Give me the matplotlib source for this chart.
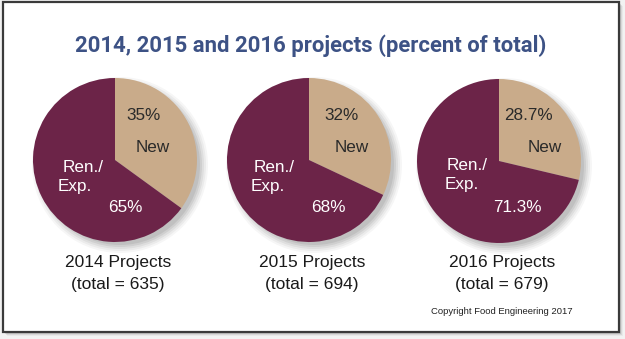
import matplotlib
matplotlib.use("Agg")
import matplotlib.pyplot as plt
from matplotlib.patches import Rectangle, Circle

years = ["2014", "2015", "2016"]
new_pct = [35, 32, 28.7]
ren_pct = [65, 68, 71.3]
new_labels = ["35%", "32%", "28.7%"]
ren_labels = ["65%", "68%", "71.3%"]
totals = [635, 694, 679]

W, H = 625, 339
fig = plt.figure(figsize=(W / 100, H / 100), dpi=100)
fig.patch.set_facecolor("#f2f2f2")
ax = fig.add_axes([0, 0, 1, 1])

title_fam = ["Liberation Sans Narrow", "Roboto", "DejaVu Sans"]
body_fam = ["Liberation Sans", "DejaVu Sans"]

def Y(y):
    return H - y

# frame shadow
for i, a in enumerate([0.10, 0.07, 0.04]):
    ax.add_patch(Rectangle((3 + 2 + i, Y(332) - 2 - i), 616, 330, facecolor="black",
                           edgecolor="none", alpha=a, zorder=0))
ax.add_patch(Rectangle((3, Y(332)), 616, 330, facecolor="white", edgecolor="#3a3a3a",
                       linewidth=1.6, zorder=1))

ax.text(311, Y(46), "2014, 2015 and 2016 projects (percent of total)", ha="center", va="center",
        fontsize=15.9, fontweight="bold", color="#3d5285", family=title_fam, zorder=5)

maroon = "#6c2448"
tan = "#c9ab8a"
centers = [(115, 160), (309, 160), (499, 161)]
R = 82
offs = [
    dict(n=(29, -45), nw=(38, -13), r=(-32, 7), e=(-40, 27), p=(10, 47)),
    dict(n=(33, -45), nw=(43, -13), r=(-35, 7), e=(-41, 27), p=(19, 48)),
    dict(n=(29, -46), nw=(46, -14), r=(-32, 4), e=(-37, 24), p=(18, 46)),
]
fs = 12.3
for i, (cx, cy) in enumerate(centers):
    # soft shadow
    for k, a in enumerate([0.035, 0.045, 0.055, 0.065, 0.07]):
        ax.add_patch(Circle((cx + 5, Y(cy) - 5), R + 6 - 2 * k, facecolor="black",
                            edgecolor="none", alpha=a, zorder=2))
    ax.pie([new_pct[i], ren_pct[i]], colors=[tan, maroon], startangle=90, counterclock=False,
           center=(cx, Y(cy)), radius=R, frame=True,
           wedgeprops=dict(linewidth=0, zorder=3))
    o = offs[i]
    ax.text(cx + o["n"][0], Y(cy + o["n"][1]), new_labels[i], ha="center", va="center",
            fontsize=fs, color="#2a2a2a", family=body_fam, zorder=6)
    ax.text(cx + o["nw"][0], Y(cy + o["nw"][1]), "New", ha="center", va="center",
            fontsize=fs, color="#2a2a2a", family=body_fam, zorder=6)
    ax.text(cx + o["r"][0], Y(cy + o["r"][1]), "Ren./", ha="center", va="center",
            fontsize=fs, color="white", family=body_fam, zorder=6)
    ax.text(cx + o["e"][0], Y(cy + o["e"][1]), "Exp.", ha="center", va="center",
            fontsize=fs, color="white", family=body_fam, zorder=6)
    ax.text(cx + o["p"][0], Y(cy + o["p"][1]), ren_labels[i], ha="center", va="center",
            fontsize=fs, color="white", family=body_fam, zorder=6)
    lx = cx + 3
    ax.text(lx, Y(263), f"{years[i]} Projects", ha="center", va="center",
            fontsize=12.5, color="#1a1a1a", family=body_fam, zorder=6)
    ax.text(lx, Y(285), f"(total = {totals[i]})", ha="center", va="center",
            fontsize=12.5, color="#1a1a1a", family=body_fam, zorder=6)

ax.set_xlim(0, W)
ax.set_ylim(0, H)
ax.set_aspect("equal")
ax.axis("off")

ax.text(502, Y(311), "Copyright Food Engineering 2017", ha="center", va="center",
        fontsize=6.8, color="#222222", family=body_fam, zorder=6)

fig.savefig("out.png", dpi=100, facecolor=fig.get_facecolor())
